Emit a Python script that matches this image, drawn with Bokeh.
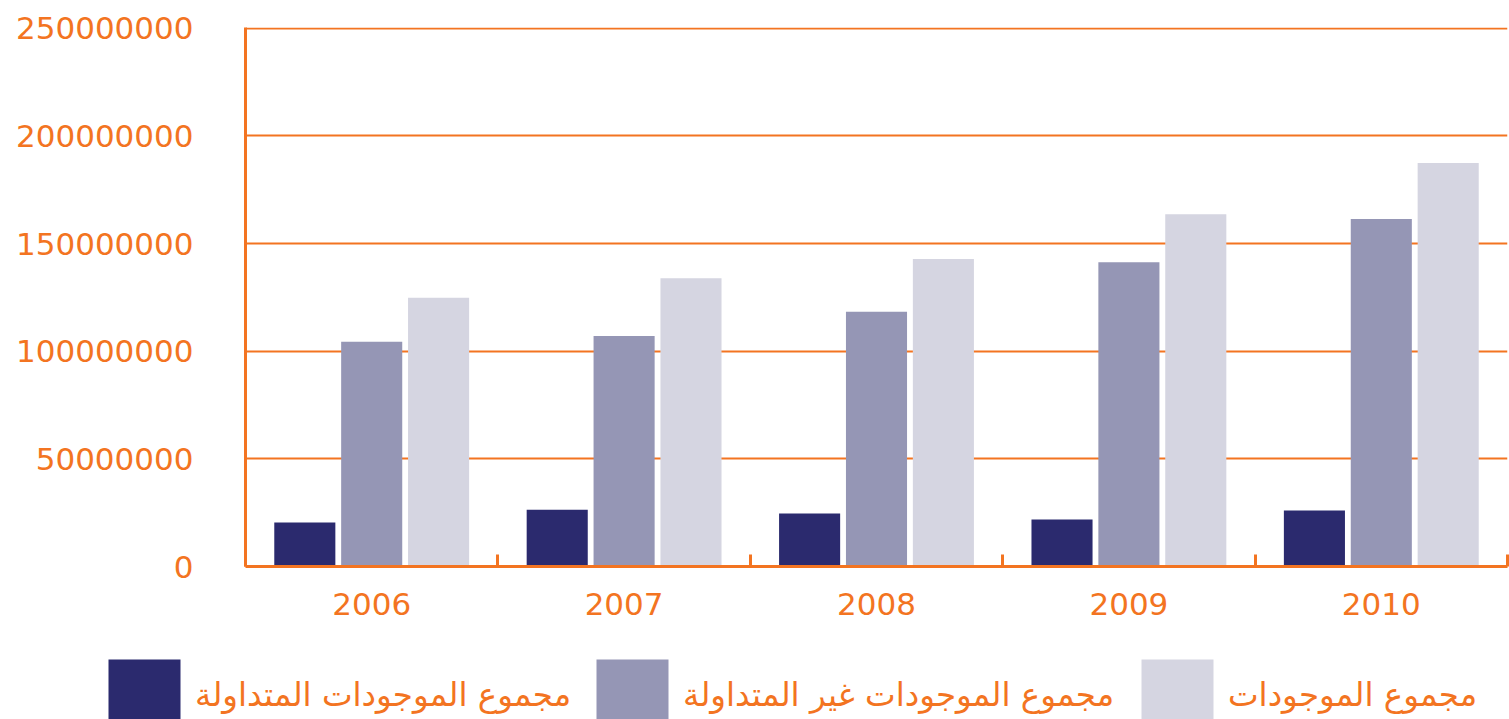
from bokeh.plotting import figure
from bokeh.layouts import column, row
from bokeh.models import Range1d, FixedTicker, Legend, LegendItem
from bokeh.embed import file_html
from bokeh.resources import INLINE

# ---- data ----
years = ["2006", "2007", "2008", "2009", "2010"]
current_assets = [20.4e6, 26.4e6, 24.6e6, 21.8e6, 26.0e6]
noncurrent_assets = [104.4e6, 107.1e6, 118.3e6, 141.3e6, 161.4e6]
total_assets = [124.8e6, 133.9e6, 142.9e6, 163.6e6, 187.4e6]
series_labels = [
    "مجموع الموجودات المتداولة",
    "مجموع الموجودات غير المتداولة",
    "مجموع الموجودات",
]
y_tick_values = [0, 50000000, 100000000, 150000000, 200000000, 250000000]

ORANGE = "#F37421"
colors = ["#2B2A6E", "#9596B5", "#D5D5E1"]
FONT = "DejaVu Sans"

p = figure(
    width=1509, height=640,
    x_range=Range1d(0, len(years)), y_range=Range1d(0, 250.4e6),
    output_backend="svg", toolbar_location=None,
    min_border_left=245, min_border_right=2, min_border_top=27, min_border_bottom=74,
)
p.outline_line_color = None

centers = [i + 0.5 for i in range(len(years))]
offsets = [-0.265, 0.0, 0.265]
bar_w = 0.242
for vals, off, col in zip([current_assets, noncurrent_assets, total_assets], offsets, colors):
    p.vbar(x=[c + off for c in centers], top=vals, width=bar_w, bottom=0,
           fill_color=col, line_color=None)

# x axis
p.xaxis.ticker = FixedTicker(ticks=centers, minor_ticks=list(range(len(years) + 1)))
p.xaxis.major_label_overrides = {c: y for c, y in zip(centers, years)}
p.xaxis.major_tick_in = 0
p.xaxis.major_tick_out = 0
p.xaxis.minor_tick_in = 12
p.xaxis.minor_tick_out = 0
p.xaxis.minor_tick_line_color = ORANGE
p.xaxis.minor_tick_line_width = 3
p.xaxis.axis_line_color = ORANGE
p.xaxis.axis_line_width = 3
p.xaxis.major_label_text_color = ORANGE
p.xaxis.major_label_text_font = FONT
p.xaxis.major_label_text_font_size = "31px"
p.xaxis.major_label_standoff = 26

# y axis
p.yaxis.ticker = FixedTicker(ticks=y_tick_values)
p.yaxis.major_label_overrides = {v: str(v) for v in y_tick_values}
p.yaxis.major_tick_in = 0
p.yaxis.major_tick_out = 0
p.yaxis.minor_tick_line_color = None
p.yaxis.axis_line_color = ORANGE
p.yaxis.axis_line_width = 3
p.yaxis.major_label_text_color = ORANGE
p.yaxis.major_label_text_font = FONT
p.yaxis.major_label_text_font_size = "31px"
p.yaxis.major_label_standoff = 52

p.xgrid.grid_line_color = None
p.ygrid.ticker = FixedTicker(ticks=y_tick_values)
p.ygrid.grid_line_color = ORANGE
p.ygrid.grid_line_width = 2

# ---- legend strip below the chart ----
lf = figure(width=1509, height=79, x_range=Range1d(0, 1), y_range=Range1d(0, 1),
            output_backend="svg", toolbar_location=None,
            x_axis_location=None, y_axis_location=None,
            min_border=0, min_border_left=0, min_border_right=0,
            min_border_top=0, min_border_bottom=0)
lf.outline_line_color = None
lf.grid.grid_line_color = None

legend_x = [99, 587, 1132]
for lab, col, lx in zip(series_labels, colors, legend_x):
    r = lf.vbar(x=[2.0], top=[0.5], width=0.1, fill_color=col, line_color=None)
    lg = Legend(items=[LegendItem(label=lab, renderers=[r])],
                location=(lx, -21), orientation="horizontal",
                glyph_width=90, glyph_height=90, label_standoff=6,
                padding=0, margin=0, spacing=0,
                border_line_color=None, background_fill_alpha=0,
                label_text_color=ORANGE, label_text_font=FONT,
                label_text_font_size="32.5px")
    lf.add_layout(lg, "center")

layout = column(row(p), row(lf), spacing=0)
open("out.html", "w").write(file_html(layout, INLINE))
